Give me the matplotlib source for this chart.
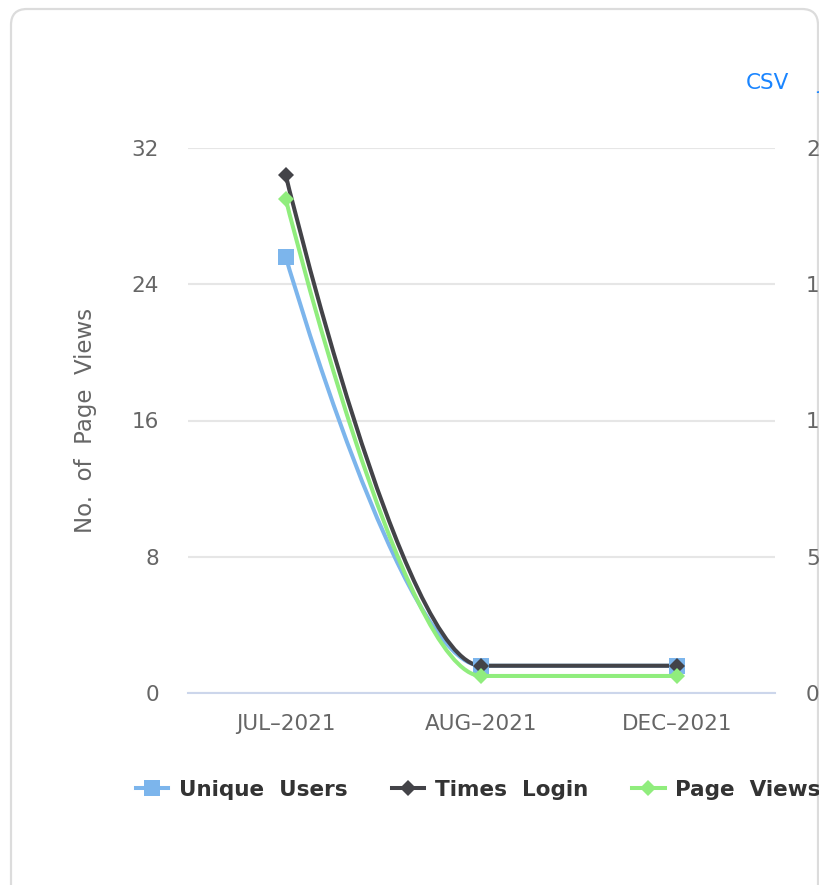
import matplotlib
matplotlib.use('Agg')
import matplotlib.pyplot as plt
from matplotlib.path import Path
from matplotlib.patches import PathPatch, FancyBboxPatch
from matplotlib.lines import Line2D

categories = ['JUL\u20132021', 'AUG\u20132021', 'DEC\u20132021']
unique_users = [16, 1, 1]      # right axis
times_login = [19, 1, 1]       # right axis
page_views = [29, 1, 1]        # left axis
left_ticks = [0, 8, 16, 24, 32]
right_ticks = [0, 5, 10, 15, 20]

C_UU = '#7cb5ec'
C_TL = '#434348'
C_PV = '#90ed7d'
LBL = '#666666'

W, H = 820, 885
PX = 72 / 100  # points per pixel
fig = plt.figure(figsize=(W / 100, H / 100), dpi=100)
plt.rcParams['font.family'] = ['DejaVu Sans']

# card
card = FancyBboxPatch((11, -30), 807, H - 9 + 30,
                      boxstyle='round,pad=0,rounding_size=16',
                      transform=None, facecolor='white',
                      edgecolor='#dcdcdc', linewidth=1.6, zorder=0)
fig.patches.append(card)


def hc_spline(xs, ys, smoothing=1.5):
    n = len(xs)
    denom = smoothing + 1
    lc = [None] * n
    rc = [None] * n
    for i in range(1, n - 1):
        px, py = xs[i], ys[i]
        lx, ly = xs[i - 1], ys[i - 1]
        nx, ny = xs[i + 1], ys[i + 1]
        lcx = (smoothing * px + lx) / denom
        lcy = (smoothing * py + ly) / denom
        rcx = (smoothing * px + nx) / denom
        rcy = (smoothing * py + ny) / denom
        if rcx != lcx:
            corr = ((rcy - lcy) * (rcx - px)) / (rcx - lcx) + py - rcy
            lcy += corr
            rcy += corr
        if lcy > ly and lcy > py:
            lcy = max(ly, py); rcy = 2 * py - lcy
        elif lcy < ly and lcy < py:
            lcy = min(ly, py); rcy = 2 * py - lcy
        if rcy > ny and rcy > py:
            rcy = max(ny, py); lcy = 2 * py - rcy
        elif rcy < ny and rcy < py:
            rcy = min(ny, py); lcy = 2 * py - rcy
        lc[i] = (lcx, lcy)
        rc[i] = (rcx, rcy)
    verts = [(xs[0], ys[0])]
    codes = [Path.MOVETO]
    for i in range(1, n):
        c1 = rc[i - 1] if rc[i - 1] else (xs[i - 1], ys[i - 1])
        c2 = lc[i] if lc[i] else (xs[i], ys[i])
        verts += [c1, c2, (xs[i], ys[i])]
        codes += [Path.CURVE4] * 3
    return Path(verts, codes)


ax = fig.add_axes([188 / W, 1 - 693 / H, 587 / W, 545 / H])
ax2 = ax.twinx()
ax.set_zorder(2)
ax2.set_zorder(3)
for a in (ax, ax2):
    a.patch.set_visible(False)
    for s in a.spines.values():
        s.set_visible(False)

x = list(range(len(categories)))
ax.set_xlim(-0.5, 2.5)
ax.set_ylim(0, 32)
ax2.set_ylim(0, 20)
ax.set_yticks(left_ticks)
ax2.set_yticks(right_ticks)
ax.set_xticks(x)
ax.set_xticklabels(categories)
ax.grid(axis='y', color='#e6e6e6', linewidth=1.5)
ax.set_axisbelow(True)
ax.spines['bottom'].set_visible(True)
ax.spines['bottom'].set_color('#ccd6eb')
ax.spines['bottom'].set_linewidth(1.5)
ax.tick_params(axis='both', length=0, labelsize=15.5, labelcolor=LBL)
ax.tick_params(axis='y', pad=29 * PX)
ax.tick_params(axis='x', pad=21 * PX)
ax2.tick_params(axis='y', length=0, labelsize=15.5, labelcolor=LBL, pad=31 * PX)
ax.set_ylabel('No.  of  Page  Views', fontsize=16.5, color=LBL)
ax.yaxis.set_label_coords(-(188 - 97) / 587, 0.5)

LW = 2.9
# Unique Users (right axis)
ax2.add_patch(PathPatch(hc_spline(x, unique_users), facecolor='none',
                        edgecolor=C_UU, linewidth=LW, capstyle='round', joinstyle='round'))
ax2.plot(x, unique_users, linestyle='none', marker='s', markersize=11.5,
         color=C_UU, markeredgewidth=0)
# Times Login (right axis)
ax2.add_patch(PathPatch(hc_spline(x, times_login), facecolor='none',
                        edgecolor=C_TL, linewidth=LW, capstyle='round', joinstyle='round'))
ax2.plot(x, times_login, linestyle='none', marker='D', markersize=8.0,
         color=C_TL, markeredgewidth=0)
# Page Views (left axis), drawn in ax's data coordinates on top
pv_tr = ax.transData
pv_patch = PathPatch(hc_spline(x, page_views), facecolor='none', edgecolor=C_PV,
                     linewidth=LW, capstyle='round', joinstyle='round',
                     transform=pv_tr, zorder=5)
ax2.add_artist(pv_patch)
ax2.plot(x, page_views, linestyle='none', marker='D', markersize=8.0,
         color=C_PV, markeredgewidth=0, transform=pv_tr, zorder=5)

# export links
fig.text(767 / W, 1 - 83 / H, 'CSV', fontsize=15.5, color='#1a85ff',
         ha='center', va='center')
fig.text(817 / W, 1 - 83 / H, 'JSON', fontsize=15.5, color='#1a85ff',
         ha='left', va='center')

# legend
handles = [
    Line2D([], [], color=C_UU, lw=LW, marker='s', markersize=11.5, markeredgewidth=0),
    Line2D([], [], color=C_TL, lw=LW, marker='D', markersize=8.0, markeredgewidth=0),
    Line2D([], [], color=C_PV, lw=LW, marker='D', markersize=8.0, markeredgewidth=0),
]
labels = ['Unique  Users', 'Times  Login', 'Page  Views']
leg = fig.legend(handles, labels, loc='center left',
                 bbox_to_anchor=(136 / W, 1 - 790 / H), ncol=3, frameon=False,
                 borderpad=0, borderaxespad=0, handlelength=1.5,
                 handletextpad=0.5, columnspacing=2.05,
                 prop={'size': 15.5, 'weight': 'bold'})
for t in leg.get_texts():
    t.set_color('#333333')

fig.savefig('out.png', dpi=100)
